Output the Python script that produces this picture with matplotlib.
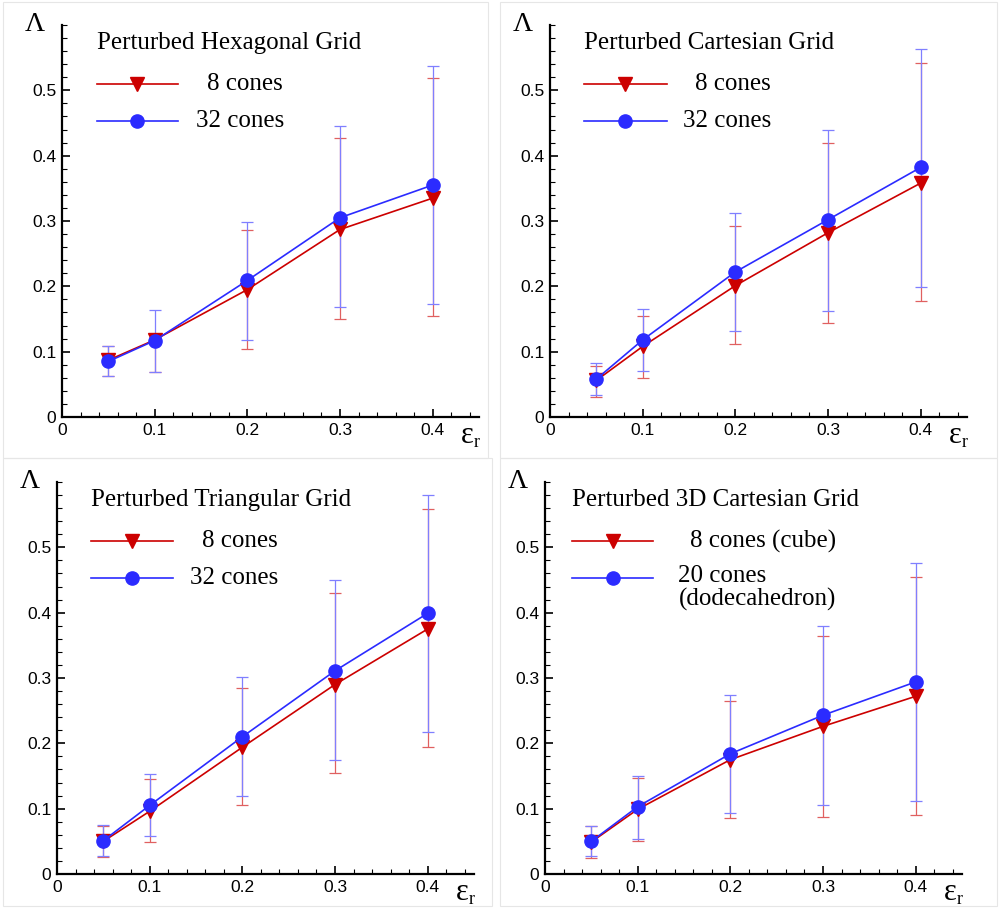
import matplotlib
matplotlib.use("Agg")
import matplotlib.pyplot as plt
from matplotlib.patches import Rectangle
from matplotlib.ticker import MultipleLocator
from matplotlib.lines import Line2D

eps = [0.05, 0.1, 0.2, 0.3, 0.4]

titles = ["Perturbed Hexagonal Grid", "Perturbed Cartesian Grid",
          "Perturbed Triangular Grid", "Perturbed 3D Cartesian Grid"]
red_labels = ["8 cones", "8 cones", "8 cones", "8 cones (cube)"]
blue_labels = ["32 cones", "32 cones", "32 cones", "20 cones\n(dodecahedron)"]

# mean values
hex_red = [0.087, 0.118, 0.195, 0.287, 0.335]
hex_blue = [0.085, 0.117, 0.209, 0.305, 0.355]
cart_red = [0.056, 0.108, 0.201, 0.282, 0.358]
cart_blue = [0.058, 0.118, 0.222, 0.302, 0.382]
tri_red = [0.050, 0.096, 0.194, 0.290, 0.375]
tri_blue = [0.051, 0.105, 0.210, 0.311, 0.399]
c3d_red = [0.049, 0.099, 0.175, 0.226, 0.272]
c3d_blue = [0.050, 0.103, 0.184, 0.243, 0.294]

# error bar bounds (lower, upper)
hex_red_lo = [0.062, 0.069, 0.104, 0.150, 0.154]
hex_red_hi = [0.108, 0.122, 0.286, 0.427, 0.519]
hex_blue_lo = [0.062, 0.069, 0.118, 0.168, 0.173]
hex_blue_hi = [0.108, 0.164, 0.299, 0.445, 0.537]

cart_red_lo = [0.031, 0.059, 0.112, 0.144, 0.177]
cart_red_hi = [0.078, 0.155, 0.292, 0.419, 0.542]
cart_blue_lo = [0.034, 0.070, 0.131, 0.163, 0.199]
cart_blue_hi = [0.082, 0.165, 0.313, 0.439, 0.564]

tri_red_lo = [0.026, 0.049, 0.105, 0.154, 0.194]
tri_red_hi = [0.073, 0.146, 0.285, 0.430, 0.558]
tri_blue_lo = [0.028, 0.058, 0.119, 0.175, 0.217]
tri_blue_hi = [0.075, 0.153, 0.301, 0.450, 0.580]

c3d_red_lo = [0.025, 0.051, 0.085, 0.088, 0.091]
c3d_red_hi = [0.073, 0.147, 0.265, 0.364, 0.454]
c3d_blue_lo = [0.027, 0.054, 0.093, 0.105, 0.112]
c3d_blue_hi = [0.074, 0.150, 0.274, 0.380, 0.476]

panels = [
    (hex_red, hex_red_lo, hex_red_hi, hex_blue, hex_blue_lo, hex_blue_hi),
    (cart_red, cart_red_lo, cart_red_hi, cart_blue, cart_blue_lo, cart_blue_hi),
    (tri_red, tri_red_lo, tri_red_hi, tri_blue, tri_blue_lo, tri_blue_hi),
    (c3d_red, c3d_red_lo, c3d_red_hi, c3d_blue, c3d_blue_lo, c3d_blue_hi),
]

W, H = 1000, 908
fig = plt.figure(figsize=(W / 100, H / 100), dpi=100)
fig.patch.set_facecolor("white")

# panel frames (pixels: x0, y0, x1, y1 from top-left)
frames = [(3, 2, 488, 458), (500, 2, 997, 458), (3, 458, 492, 906), (500, 458, 997, 906)]
for x0, y0, x1, y1 in frames:
    fig.add_artist(Rectangle((x0 / W, 1 - y1 / H), (x1 - x0) / W, (y1 - y0) / H,
                             transform=fig.transFigure, fill=False,
                             edgecolor="#e6e6e6", linewidth=0.8))

# axes positions in pixels: left, bottom(y from top)
axpos = [(62, 417), (550, 417), (57, 874), (545, 874)]
axw, axh = 417, 392

RED = "#cc0000"
BLUE = "#2b2bff"
RED_E = "#e06060"
BLUE_E = "#7f7fff"

serif = ["Liberation Serif", "DejaVu Serif"]
sans = ["Liberation Sans", "DejaVu Sans"]

leg_x0 = [0.083, 0.081, 0.081, 0.065]
leg_x1 = [0.278, 0.280, 0.277, 0.260]
txt_8 = [0.348, 0.347, 0.348, 0.347]
txt_32 = [0.321, 0.318, 0.320, 0.320]

MS_T = 10
MS_C = 9.5

for i, (ax_l, ax_b) in enumerate(axpos):
    ax = fig.add_axes([ax_l / W, 1 - ax_b / H, axw / W, axh / H])
    r, rlo, rhi, b, blo, bhi = panels[i]
    rerr = [[m - lo for m, lo in zip(r, rlo)], [hi - m for m, hi in zip(r, rhi)]]
    berr = [[m - lo for m, lo in zip(b, blo)], [hi - m for m, hi in zip(b, bhi)]]
    ax.errorbar(eps, r, yerr=rerr, fmt="none", ecolor=RED_E, elinewidth=0.9,
                capsize=4.5, capthick=0.9, zorder=2)
    ax.errorbar(eps, b, yerr=berr, fmt="none", ecolor=BLUE_E, elinewidth=0.9,
                capsize=4.5, capthick=0.9, zorder=3)
    ax.plot(eps, r, color=RED, lw=1.2, marker="v", ms=MS_T, mfc=RED, mec=RED, zorder=4)
    ax.plot(eps, b, color=BLUE, lw=1.2, marker="o", ms=MS_C, mfc=BLUE, mec=BLUE, zorder=5)

    ax.set_xlim(0, 0.45)
    ax.set_ylim(0, 0.6)
    ax.set_facecolor("none")
    for s in ["top", "right"]:
        ax.spines[s].set_visible(False)
    for s in ["left", "bottom"]:
        ax.spines[s].set_linewidth(1.6)
    ax.xaxis.set_minor_locator(MultipleLocator(0.02))
    ax.yaxis.set_minor_locator(MultipleLocator(0.02))
    ax.set_yticks([0, 0.1, 0.2, 0.3, 0.4, 0.5])
    ax.set_xticks([0, 0.1, 0.2, 0.3, 0.4])
    ax.set_xticklabels(["0", "0.1", "0.2", "0.3", "0.4"])
    ax.set_yticklabels(["0", "0.1", "0.2", "0.3", "0.4", "0.5"])
    ax.tick_params(which="major", direction="in", length=6, width=1.2, labelsize=12.5, pad=4)
    ax.tick_params(which="minor", direction="in", length=3.5, width=0.8)
    for lab in ax.get_xticklabels() + ax.get_yticklabels():
        lab.set_fontfamily(sans)

    ax.text(-0.065, 1.0, "Λ", transform=ax.transAxes, fontsize=20, family=serif,
            ha="center", va="center")
    ax.text(0.973, -0.046, "ε", transform=ax.transAxes, fontsize=22, family=serif,
            ha="center", va="center")
    ax.text(0.994, -0.066, "r", transform=ax.transAxes, fontsize=13, family=serif,
            ha="center", va="center")

    ax.text(leg_x0[i], 0.954, titles[i], transform=ax.transAxes, fontsize=18,
            family=serif, ha="left", va="center")
    xm = (leg_x0[i] + leg_x1[i]) / 2
    for yy, col, mk, ms in [(0.849, RED, "v", MS_T), (0.755, BLUE, "o", MS_C)]:
        ax.add_line(Line2D([leg_x0[i], leg_x1[i]], [yy, yy], transform=ax.transAxes,
                           color=col, lw=1.2, clip_on=False))
        ax.add_line(Line2D([xm], [yy], transform=ax.transAxes, color=col, marker=mk,
                           ms=ms, mfc=col, mec=col, clip_on=False))
    ax.text(txt_8[i], 0.849, red_labels[i], transform=ax.transAxes, fontsize=18,
            family=serif, ha="left", va="center")
    if i == 3:
        ax.text(txt_32[i], 0.755 + 0.034, blue_labels[i], transform=ax.transAxes,
                fontsize=18, family=serif, ha="left", va="top", linespacing=1.05)
    else:
        ax.text(txt_32[i], 0.755, blue_labels[i], transform=ax.transAxes, fontsize=18,
                family=serif, ha="left", va="center")

fig.savefig("out.png", dpi=100)
